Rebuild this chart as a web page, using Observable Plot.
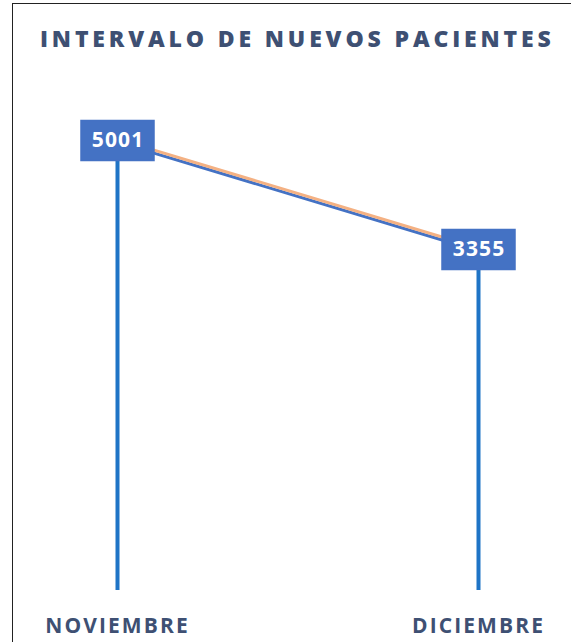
<!DOCTYPE html>
<html>
<head>
<meta charset="utf-8">
<script src="https://cdn.jsdelivr.net/npm/d3@7"></script>
<script src="https://cdn.jsdelivr.net/npm/@observablehq/plot@0.6"></script>
<style>
  html, body { margin: 0; padding: 0; background: #fff; width: 571px; height: 642px; overflow: hidden; }
  #frame { position: absolute; left: 12px; top: 3px; width: 600px; height: 700px; border: 1px solid #222; box-sizing: border-box; pointer-events: none; }
  #title { position: absolute; left: 40px; top: 23px; font-family: "Open Sans", sans-serif; font-weight: 800; font-size: 23px; letter-spacing: 3.85px; color: #3E5073; white-space: nowrap; line-height: 30px; }
  #chart { position: absolute; left: 0; top: 60px; }
  #chart svg g[aria-label="x-axis tick label"] text { letter-spacing: 2.1px; }
  #chart svg g[aria-label="text"] text { letter-spacing: 1.2px; }
</style>
</head>
<body>
<div id="frame"></div>
<div id="title">INTERVALO DE NUEVOS PACIENTES</div>
<div id="chart"></div>
<script>
const months = ["NOVIEMBRE", "DICIEMBRE"];
const pacientes = [5001, 3355];
const yDomain = [-1800, 6000];

const data = months.map((m, i) => ({mes: m, valor: pacientes[i]}));

const boxSymbol = {
  draw(context) {
    context.rect(-36.5, -20, 73, 40);
  }
};

const chart = Plot.plot({
  width: 571,
  height: 582,
  marginLeft: 117,
  marginRight: 93,
  marginTop: 14,
  marginBottom: 52,
  x: {domain: months, type: "point", padding: 0},
  y: {domain: yDomain, axis: null},
  style: {background: "transparent", overflow: "visible"},
  marks: [
    Plot.ruleX(data, {x: "mes", y1: "valor", y2: yDomain[0], stroke: "#1F74C6", strokeWidth: 4}),
    Plot.line(data, {x: "mes", y: "valor", stroke: "#4472C4", strokeWidth: 3, dy: 1.5}),
    Plot.line(data, {x: "mes", y: "valor", stroke: "#F4B183", strokeWidth: 3, dy: -1.5}),
    Plot.dot(data, {x: "mes", y: "valor", symbol: boxSymbol, fill: "#4472C4", stroke: "#4472C4", r: 10}),
    Plot.text(data, {x: "mes", y: "valor", text: d => String(d.valor), fill: "white", fontSize: 21, fontWeight: 700, fontFamily: "Open Sans, sans-serif", dx: 0.6}),
    Plot.axisX({tickSize: 0, tickPadding: 28, fontSize: 21, fontWeight: 700, fontFamily: "Open Sans, sans-serif", fill: "#3E5073", label: null})
  ]
});
document.getElementById("chart").appendChild(chart);
</script>
</body>
</html>
